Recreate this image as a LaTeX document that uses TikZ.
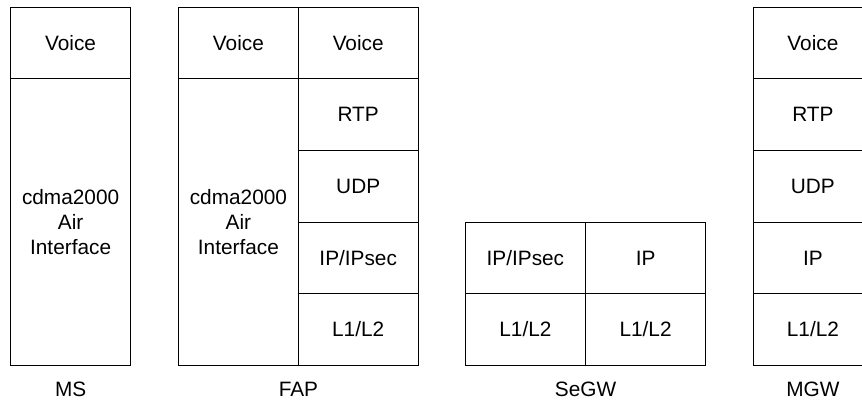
\documentclass[tikz,border=0pt]{standalone}
\usepackage{fontspec}
\setmainfont{Liberation Sans}
\begin{document}
\begin{tikzpicture}[x=1pt,y=-1pt,
  layer/.style={draw=black, line width=0.9pt, anchor=north west, inner sep=0pt, outer sep=0pt,
    minimum width=119.8pt, minimum height=71.67pt, align=center,
    font=\fontsize{20.8}{24.8}\selectfont, text height=14.9pt, text depth=0pt},
  tall/.style={layer, minimum height=286.67pt, text height=, text depth=},
  caption/.style={font=\fontsize{20.8}{24.8}\selectfont, inner sep=0pt}]
\useasboundingbox (0,0) rectangle (862,415);
\clip (0,0) rectangle (862,415);

% MS stack
\node[layer] (msvoice) at (10.7,7) {Voice};
\node[tall]  (msair)   at (msvoice.south west) {cdma2000\\Air\\Interface};

% FAP stack: air side and IP side
\node[layer] (fapvoicel) at (178.5,7) {Voice};
\node[tall]  (fapair)    at (fapvoicel.south west) {cdma2000\\Air\\Interface};
\node[layer] (fapvoice)  at (fapvoicel.north east) {Voice};
\node[layer] (faprtp)    at (fapvoice.south west) {RTP};
\node[layer] (fapudp)    at (faprtp.south west) {UDP};
\node[layer] (fapip)     at (fapudp.south west) {IP/IPsec};
\node[layer] (fapl)      at (fapip.south west) {L1/L2};

% SeGW stack
\node[layer, minimum width=120.2pt] (segwipsec) at (465.3,222) {IP/IPsec};
\node[layer, minimum width=120.2pt] (segwip)    at (segwipsec.north east) {IP};
\node[layer, minimum width=120.2pt] (segwla)    at (segwipsec.south west) {L1/L2};
\node[layer, minimum width=120.2pt] (segwlb)    at (segwla.north east) {L1/L2};

% MGW stack
\node[layer] (mgwvoice) at (753,7) {Voice};
\node[layer] (mgwrtp)   at (mgwvoice.south west) {RTP};
\node[layer] (mgwudp)   at (mgwrtp.south west) {UDP};
\node[layer] (mgwip)    at (mgwudp.south west) {IP};
\node[layer] (mgwl)     at (mgwip.south west) {L1/L2};

% entity names
\node[caption] (msname)   at (70.6,389.5) {MS};
\node[caption] (fapname)  at (298.4,389.5) {FAP};
\node[caption] (segwname) at (585.5,389.5) {SeGW};
\node[caption] (mgwname)  at (812.9,389.5) {MGW};
\end{tikzpicture}
\end{document}
